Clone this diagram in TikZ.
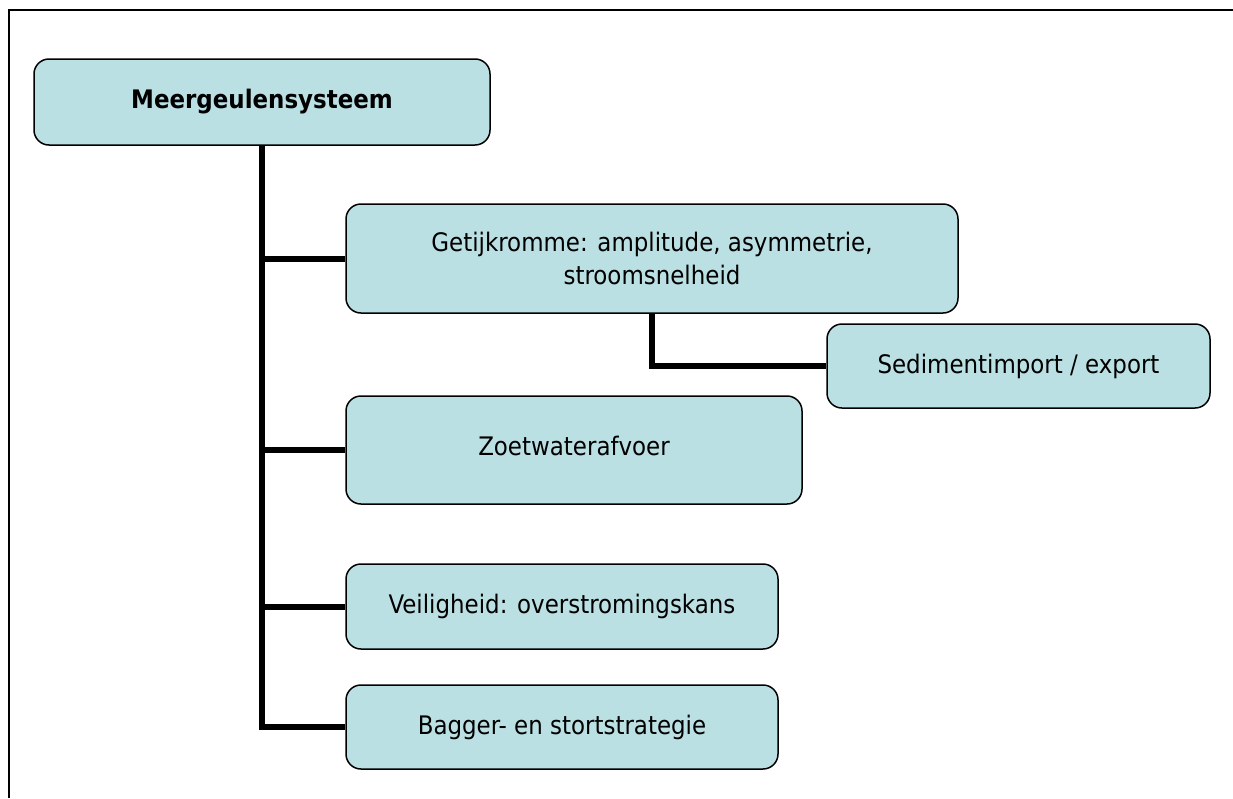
\documentclass[tikz,border=0pt]{standalone}
\usepackage{fontspec}
\setmainfont{DejaVu Sans Condensed}
\definecolor{boxfill}{RGB}{187,224,227}
\begin{document}
\begin{tikzpicture}[x=1pt,y=-1pt,
  topic/.style={draw=black, line width=1.5pt, fill=boxfill, rounded corners=15pt,
    inner sep=0pt, align=center, font=\fontsize{25.5}{33}\selectfont},
  link/.style={line width=6pt, line join=miter}]
\useasboundingbox (0,0) rectangle (1233,798);
% open frame: top and left edges only
\coordinate (frTR) at (1233,10);
\coordinate (frTL) at (9,10);
\coordinate (frBL) at (9,798);
\draw[line width=2pt] (frTR) -- (frTL) -- (frBL);

\node[topic, minimum width=456pt, minimum height=86pt,
  font=\fontsize{25.5}{33}\selectfont\bfseries] (root) at (262,102) {Meergeulensysteem};
\node[topic, minimum width=612pt, minimum height=109pt] (getij) at (652,258.5)
  {Getijkromme: amplitude, asymmetrie,\\ stroomsnelheid};
\node[topic, minimum width=383pt, minimum height=84pt] (sed) at (1018.5,366)
  {Sedimentimport / export};
\node[topic, minimum width=456pt, minimum height=108pt] (zoet) at (574,450)
  {\raisebox{8pt}{Zoetwaterafvoer}};
\node[topic, minimum width=432pt, minimum height=85pt] (veil) at (562,606.5)
  {Veiligheid: overstromingskans};
\node[topic, minimum width=432pt, minimum height=84pt] (bag) at (562,727)
  {Bagger- en stortstrategie};

% trunk and branches
\draw[link] (root.south) |- (bag.west);
\draw[link] (root.south |- getij.west) -- (getij.west);
\draw[link] (root.south |- zoet.west) -- (zoet.west);
\draw[link] (root.south |- veil.west) -- (veil.west);
\draw[link] (getij.south) |- (sed.west);
\end{tikzpicture}
\end{document}
